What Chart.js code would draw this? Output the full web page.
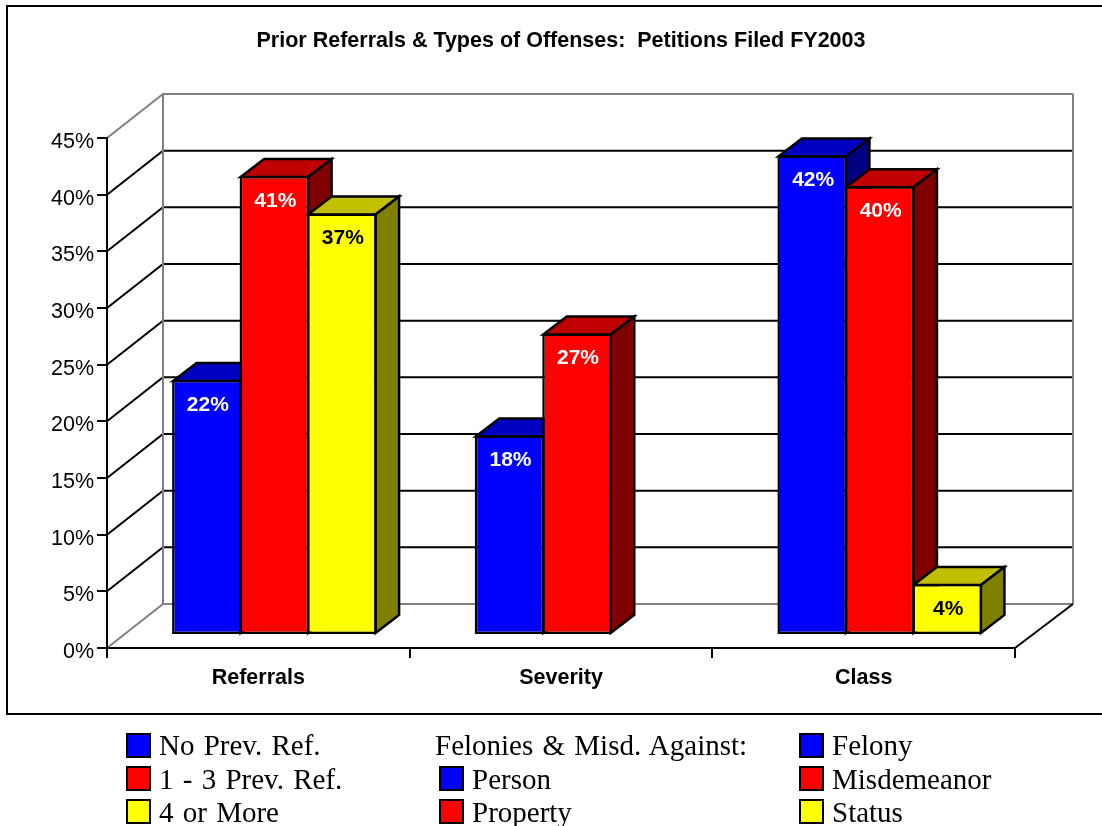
<!DOCTYPE html>
<html>
<head>
<meta charset="utf-8">
<title>Prior Referrals & Types of Offenses</title>
<script src="https://cdn.jsdelivr.net/npm/chart.js@4"></script>
<style>
    html, body { margin: 0; padding: 0; background: #fff; overflow: hidden; }
    #wrap { position: relative; width: 1102px; height: 826px; }
    #chart { position: absolute; left: 0; top: 0; }
    .entry { position: absolute; font: 29px/34px "Liberation Serif", serif; color: #000; white-space: pre; word-spacing: 2px; }
    .swatch { position: absolute; width: 21px; height: 21px; border: 2px solid #000; }
</style>
</head>
<body>
<div id="wrap">
    <canvas id="chart" width="1102" height="826"></canvas>
</div>
<script>
const categories = ['Referrals', 'Severity', 'Class'];
const titleText = 'Prior Referrals & Types of Offenses:  Petitions Filed FY2003';

// bar heights, printed labels kept apart
const blueValues = [22.5, 17.6, 42.3];
const redValues = [40.5, 26.6, 39.6];
const yellowValues = [37.2, null, 4.5];
const blueLabels = ['22%', '18%', '42%'];
const redLabels = ['41%', '27%', '40%'];
const yellowLabels = ['37%', null, '4%'];

const legendLeft = ['No Prev. Ref.', '1 - 3 Prev. Ref.', '4 or More'];
const legendMiddle = ['Felonies & Misd. Against:', 'Person', 'Property'];
const legendRight = ['Felony', 'Misdemeanor', 'Status'];

const palette = [
    { front: '#0000ff', top: '#0000c0', side: '#000080', text: '#ffffff' },
    { front: '#ff0000', top: '#c00000', side: '#800000', text: '#ffffff' },
    { front: '#ffff00', top: '#c0c000', side: '#808000', text: '#000000' }
];
const printedLabels = [blueLabels, redLabels, yellowLabels];

// 3D offsets
const wallDx = 56, wallDy = -44;
const barDx = 16, barDy = -13;
const depthDx = 23.5, depthDy = -18;

const line = (ctx, points, color, width) => {
    ctx.beginPath();
    points.forEach((p, i) => i ? ctx.lineTo(p[0], p[1]) : ctx.moveTo(p[0], p[1]));
    ctx.strokeStyle = color;
    ctx.lineWidth = width;
    ctx.stroke();
};

const face = (ctx, points, color) => {
    ctx.beginPath();
    points.forEach((p, i) => i ? ctx.lineTo(p[0], p[1]) : ctx.moveTo(p[0], p[1]));
    ctx.closePath();
    ctx.fillStyle = color;
    ctx.fill();
    ctx.strokeStyle = '#000';
    ctx.lineWidth = 2.5;
    ctx.lineJoin = 'miter';
    ctx.stroke();
};

// frame, walls and floor behind everything
const wallsPlugin = {
    id: 'walls',
    beforeDraw(chart) {
        const { ctx, chartArea: a, scales: { y } } = chart;
        ctx.save();
        ctx.strokeStyle = '#000';
        ctx.lineWidth = 2;
        ctx.beginPath();
        ctx.moveTo(1103, 6);
        ctx.lineTo(7, 6);
        ctx.lineTo(7, 714);
        ctx.lineTo(1103, 714);
        ctx.stroke();

        const backRight = a.right + wallDx + 2;
        y.ticks.forEach(t => {
            const py = y.getPixelForValue(t.value);
            const edge = t.value === 0 || t.value === y.max;
            line(ctx, [[a.left, py], [a.left + wallDx, py + wallDy], [backRight, py + wallDy]], edge ? '#808080' : '#000', 2);
        });
        const backTop = a.top + wallDy, backBottom = a.bottom + wallDy;
        line(ctx, [[a.left + wallDx, backTop], [a.left + wallDx, backBottom]], '#808080', 2);
        line(ctx, [[backRight, backTop], [backRight, backBottom]], '#808080', 2);
        line(ctx, [[a.right, a.bottom], [backRight, backBottom]], '#000', 2);
        ctx.restore();
    }
};

// depth faces go first, left to right, so the fronts drawn by the library cover them
const depthPlugin = {
    id: 'depth',
    beforeDatasetsDraw(chart) {
        const { ctx } = chart;
        ctx.save();
        ctx.translate(barDx, barDy);
        categories.forEach((_, c) => {
            chart.data.datasets.forEach((ds, d) => {
                if (ds.data[c] === null) return;
                const bar = chart.getDatasetMeta(d).data[c];
                const l = bar.x - bar.width / 2 + 1, r = bar.x + bar.width / 2 - 1;
                const t = bar.y + 1, b = bar.base - 1;
                face(ctx, [[l, t], [l + depthDx, t + depthDy], [r + depthDx, t + depthDy], [r, t]], palette[d].top);
                face(ctx, [[r, t], [r + depthDx, t + depthDy], [r + depthDx, b + depthDy], [r, b]], palette[d].side);
            });
        });
    },
    afterDatasetsDraw(chart) {
        const { ctx } = chart;
        ctx.font = 'bold 21px "Liberation Sans", Arial, sans-serif';
        ctx.textAlign = 'center';
        ctx.textBaseline = 'middle';
        chart.data.datasets.forEach((ds, d) => {
            chart.getDatasetMeta(d).data.forEach((bar, c) => {
                const label = printedLabels[d][c];
                if (!label) return;
                ctx.fillStyle = palette[d].text;
                ctx.fillText(label, bar.x + 1, bar.y + 25);
            });
        });
        ctx.restore();
    }
};

new Chart(document.getElementById('chart'), {
    type: 'bar',
    data: {
        labels: categories,
        datasets: [blueValues, redValues, yellowValues].map((values, i) => ({
            data: values,
            backgroundColor: palette[i].front,
            borderColor: '#000',
            borderWidth: 2.5,
            borderSkipped: false,
            clip: false,
            categoryPercentage: 0.669,
            barPercentage: 1.03
        }))
    },
    options: {
        responsive: false,
        animation: false,
        layout: { padding: { left: 0, right: 87, top: 0, bottom: 0 } },
        plugins: {
            legend: { display: false },
            tooltip: { enabled: false },
            title: {
                display: true,
                text: titleText,
                fullSize: false,
                color: '#000',
                font: { family: '"Liberation Sans", Arial, sans-serif', size: 21.5, weight: 'bold', lineHeight: 1.2 },
                padding: { top: 28, bottom: 84.2 }
            }
        },
        scales: {
            x: {
                afterFit: s => { s.height = 178; },
                grid: { drawOnChartArea: false, color: '#000', lineWidth: 2, tickLength: 10 },
                border: { color: '#000', width: 2 },
                ticks: {
                    color: '#000',
                    padding: 7,
                    font: { family: '"Liberation Sans", Arial, sans-serif', size: 21.5, weight: 'bold' }
                }
            },
            y: {
                min: 0,
                max: 45,
                afterFit: s => { s.width = 107; },
                grid: { drawOnChartArea: false, color: '#000', lineWidth: 2, tickLength: 10 },
                border: { color: '#000', width: 2 },
                ticks: {
                    stepSize: 5,
                    color: '#000',
                    padding: 3,
                    labelOffset: 4,
                    font: { family: '"Liberation Sans", Arial, sans-serif', size: 21.5 },
                    callback: v => v + '%'
                }
            }
        }
    },
    plugins: [wallsPlugin, depthPlugin]
});

// legend below the frame
const wrap = document.getElementById('wrap');
const rowTops = [728, 762, 795];
const swatchTops = [733, 766, 799];
const addEntry = (text, x, row, color) => {
    const el = document.createElement('div');
    el.className = 'entry';
    el.textContent = text;
    el.style.left = x + 'px';
    el.style.top = rowTops[row] + 'px';
    wrap.appendChild(el);
    if (color) {
        const sw = document.createElement('div');
        sw.className = 'swatch';
        sw.style.left = (x - 33) + 'px';
        sw.style.top = swatchTops[row] + 'px';
        sw.style.background = color;
        wrap.appendChild(sw);
    }
};
legendLeft.forEach((t, i) => addEntry(t, 159, i, palette[i].front));
addEntry(legendMiddle[0], 435, 0);
addEntry(legendMiddle[1], 472, 1, palette[0].front);
addEntry(legendMiddle[2], 472, 2, palette[1].front);
legendRight.forEach((t, i) => addEntry(t, 832, i, palette[i].front));
</script>
</body>
</html>
